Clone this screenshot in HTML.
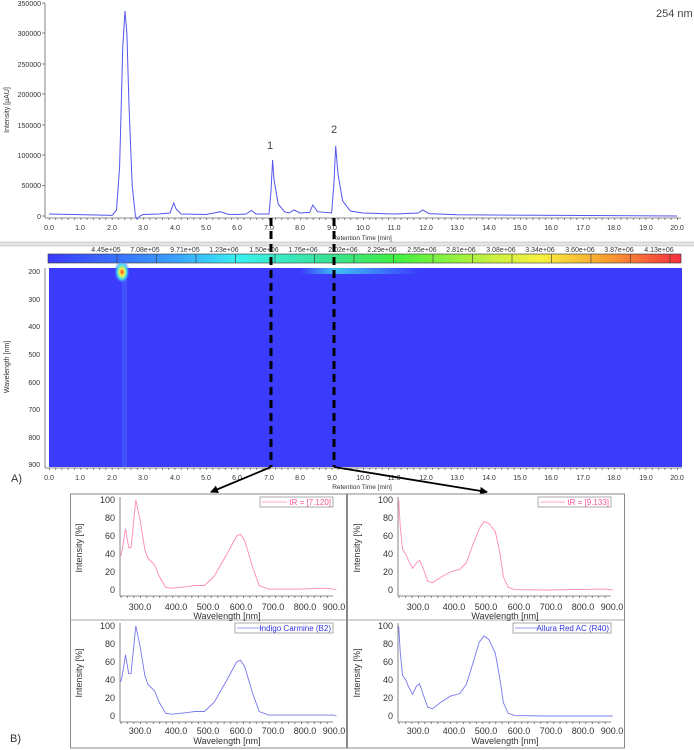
<!DOCTYPE html>
<html><head><meta charset="utf-8"><style>
html,body{margin:0;padding:0;background:#fff;}
svg{display:block;font-family:"Liberation Sans",sans-serif;}
.t{font-size:7px;fill:#333;}
.s{font-size:9px;fill:#333;}
</style></head><body>
<svg width="694" height="750" viewBox="0 0 694 750">
<defs>
<pattern id="mt" x="49" y="0" width="6.28" height="10" patternUnits="userSpaceOnUse"><rect x="0" y="0" width="0.7" height="10" fill="#555"/></pattern>
<pattern id="mts" x="140" y="0" width="6.44" height="10" patternUnits="userSpaceOnUse"><rect x="0" y="0" width="0.7" height="10" fill="#555"/></pattern>
<linearGradient id="cb" x1="0" x2="1"><stop offset="0" stop-color="#3a3aff"/><stop offset="0.2" stop-color="#3aa0ff"/><stop offset="0.3" stop-color="#3af0f0"/><stop offset="0.45" stop-color="#3ae090"/><stop offset="0.55" stop-color="#40f040"/><stop offset="0.7" stop-color="#c8f040"/><stop offset="0.78" stop-color="#f8f040"/><stop offset="0.88" stop-color="#f8a030"/><stop offset="1" stop-color="#f83040"/></linearGradient>
<radialGradient id="hs" cx="0.5" cy="0.5" r="0.5"><stop offset="0" stop-color="#ff3030"/><stop offset="0.3" stop-color="#f8f040"/><stop offset="0.6" stop-color="#40e0f0"/><stop offset="1" stop-color="#3a3aff" stop-opacity="0"/></radialGradient>
<linearGradient id="cy" x1="0" x2="1"><stop offset="0" stop-color="#40e0f0" stop-opacity="0"/><stop offset="0.3" stop-color="#40e0f0" stop-opacity="0.8"/><stop offset="1" stop-color="#40e0f0" stop-opacity="0"/></linearGradient>
<marker id="ar" markerWidth="8" markerHeight="8" refX="7" refY="4" orient="auto" markerUnits="userSpaceOnUse"><path d="M0,0 L8,4 L0,8 z" fill="#000"/></marker>
</defs>

<!-- Top chromatogram -->
<line x1="45" y1="3" x2="45" y2="218" stroke="#666" stroke-width="0.8"/>
<line x1="45" y1="218" x2="681" y2="218" stroke="#666" stroke-width="0.8"/>
<rect x="49" y="218" width="630" height="2" fill="url(#mt)"/>
<g class="t" text-anchor="end">
<text x="41" y="219">0</text><text x="41" y="188">50000</text><text x="41" y="158">100000</text><text x="41" y="128">150000</text><text x="41" y="97">200000</text><text x="41" y="67">250000</text><text x="41" y="36">300000</text><text x="41" y="6">350000</text>
</g>
<g stroke="#666" stroke-width="0.8"><line x1="42" y1="216" x2="45" y2="216"/><line x1="42" y1="185.6" x2="45" y2="185.6"/><line x1="42" y1="155" x2="45" y2="155"/><line x1="42" y1="125" x2="45" y2="125"/><line x1="42" y1="94" x2="45" y2="94"/><line x1="42" y1="64" x2="45" y2="64"/><line x1="42" y1="33" x2="45" y2="33"/><line x1="42" y1="3" x2="45" y2="3"/></g>
<text class="t" transform="translate(9,110) rotate(-90)" text-anchor="middle" font-size="6.5">Intensity [µAU]</text>
<g class="t" text-anchor="middle">
<text x="49" y="230">0.0</text><text x="80" y="230">1.0</text><text x="112" y="230">2.0</text><text x="143" y="230">3.0</text><text x="175" y="230">4.0</text><text x="206" y="230">5.0</text><text x="237" y="230">6.0</text><text x="269" y="230">7.0</text><text x="300" y="230">8.0</text><text x="332" y="230">9.0</text><text x="363" y="230">10.0</text><text x="394" y="230">11.0</text><text x="426" y="230">12.0</text><text x="457" y="230">13.0</text><text x="489" y="230">14.0</text><text x="520" y="230">15.0</text><text x="551" y="230">16.0</text><text x="583" y="230">17.0</text><text x="614" y="230">18.0</text><text x="646" y="230">19.0</text><text x="677" y="230">20.0</text>
<text x="362" y="240" font-size="6.5">Retention Time [min]</text>
</g>
<text x="656" y="17" font-size="11" fill="#444">254 nm</text>
<polyline fill="none" stroke="#5555ee" stroke-width="1" points="49,214 96,215 112,215.4 116.5,210 119.6,167 122.8,46 125,11 126.9,33.6 129,106 132.2,185.6 135.4,216 137,219 140,216 143,214.5 159,214 170,213 173.7,203 176,208.7 181,214 206,214.5 214,213 220,211.7 228,214.2 237,214.5 246,214 251.5,210.5 256,214 269,214 271,191.7 272.6,160 274,179.5 278.2,204 284.5,211.7 289,213 294,210 300,213 309.6,212.4 312.8,205 317.5,211.7 331.6,213 333.8,185.6 335.7,146 337.9,173.4 342.6,200.8 350.4,211 363,213 394.4,214 418,213 422.7,210 429,213.6 457,214.8 677,216"/>
<text x="270" y="149" font-size="11" fill="#444" text-anchor="middle">1</text>
<text x="334" y="133" font-size="11" fill="#444" text-anchor="middle">2</text>

<!-- separator -->
<rect x="0" y="242" width="694" height="4" fill="#e4e4e4"/>
<line x1="0" y1="242" x2="694" y2="242" stroke="#aaa" stroke-width="0.6"/>
<line x1="0" y1="246" x2="694" y2="246" stroke="#aaa" stroke-width="0.6"/>

<!-- colorbar -->
<rect x="48" y="254" width="633" height="9" fill="url(#cb)" stroke="#333" stroke-width="0.6"/>
<g stroke="#333" stroke-width="0.6"><line x1="117" y1="254" x2="117" y2="263"/><line x1="156.5" y1="254" x2="156.5" y2="263"/><line x1="196" y1="254" x2="196" y2="263"/><line x1="235.5" y1="254" x2="235.5" y2="263"/><line x1="275" y1="254" x2="275" y2="263"/><line x1="314.5" y1="254" x2="314.5" y2="263"/><line x1="354" y1="254" x2="354" y2="263"/><line x1="393.5" y1="254" x2="393.5" y2="263"/><line x1="433" y1="254" x2="433" y2="263"/><line x1="472.5" y1="254" x2="472.5" y2="263"/><line x1="512" y1="254" x2="512" y2="263"/><line x1="551.5" y1="254" x2="551.5" y2="263"/><line x1="591" y1="254" x2="591" y2="263"/><line x1="630.5" y1="254" x2="630.5" y2="263"/><line x1="670" y1="254" x2="670" y2="263"/></g>
<g class="t" text-anchor="middle" font-size="6.5">
<text x="106" y="252">4.45e+05</text><text x="145" y="252">7.08e+05</text><text x="185" y="252">9.71e+05</text><text x="224" y="252">1.23e+06</text><text x="264" y="252">1.50e+06</text><text x="303" y="252">1.76e+06</text><text x="343" y="252">2.02e+06</text><text x="382" y="252">2.29e+06</text><text x="422" y="252">2.55e+06</text><text x="461" y="252">2.81e+06</text><text x="501" y="252">3.08e+06</text><text x="540" y="252">3.34e+06</text><text x="580" y="252">3.60e+06</text><text x="619" y="252">3.87e+06</text><text x="659" y="252">4.13e+06</text>
</g>

<!-- heatmap -->
<rect x="49" y="268" width="633" height="199" fill="#3b3bfc"/>
<rect x="300" y="268" width="120" height="6" fill="url(#cy)"/>
<rect x="122" y="272" width="5" height="195" fill="#4a60f8" opacity="0.6"/>
<ellipse cx="122" cy="272" rx="8" ry="12" fill="url(#hs)"/>
<line x1="45" y1="268" x2="45" y2="468" stroke="#666" stroke-width="0.8"/>
<line x1="45" y1="468" x2="682" y2="468" stroke="#666" stroke-width="0.8"/>
<rect x="49" y="468" width="630" height="2" fill="url(#mt)"/>
<g class="t" text-anchor="end">
<text x="40" y="274">200</text><text x="40" y="302">300</text><text x="40" y="329">400</text><text x="40" y="357">500</text><text x="40" y="385">600</text><text x="40" y="412">700</text><text x="40" y="440">800</text><text x="40" y="467">900</text>
</g>
<text class="t" transform="translate(9,367) rotate(-90)" text-anchor="middle" font-size="6.5">Wavelength [nm]</text>
<g class="t" text-anchor="middle">
<text x="49" y="480">0.0</text><text x="80" y="480">1.0</text><text x="112" y="480">2.0</text><text x="143" y="480">3.0</text><text x="175" y="480">4.0</text><text x="206" y="480">5.0</text><text x="237" y="480">6.0</text><text x="269" y="480">7.0</text><text x="300" y="480">8.0</text><text x="332" y="480">9.0</text><text x="363" y="480">10.0</text><text x="394" y="480">11.0</text><text x="426" y="480">12.0</text><text x="457" y="480">13.0</text><text x="489" y="480">14.0</text><text x="520" y="480">15.0</text><text x="551" y="480">16.0</text><text x="583" y="480">17.0</text><text x="614" y="480">18.0</text><text x="646" y="480">19.0</text><text x="677" y="480">20.0</text>
<text x="362" y="489" font-size="6.5">Retention Time [min]</text>
</g>
<text x="11" y="482" font-size="11" fill="#333">A)</text>
<text x="10" y="742" font-size="11" fill="#333">B)</text>

<!-- dashed lines and arrows -->
<line x1="271" y1="218" x2="271" y2="467" stroke="#000" stroke-width="3" stroke-dasharray="8,5"/>
<line x1="334" y1="218" x2="334" y2="467" stroke="#000" stroke-width="3" stroke-dasharray="8,5"/>
<line x1="271" y1="467" x2="211" y2="492" stroke="#000" stroke-width="1.8" marker-end="url(#ar)"/>
<line x1="334" y1="467" x2="487" y2="492" stroke="#000" stroke-width="1.8" marker-end="url(#ar)"/>

<!-- spectra boxes -->
<rect x="70.5" y="494" width="276" height="254" fill="none" stroke="#888" stroke-width="1"/>
<rect x="347.5" y="494" width="277" height="254" fill="none" stroke="#888" stroke-width="1"/>
<line x1="70" y1="620" x2="346" y2="620" stroke="#aaa" stroke-width="1"/>
<line x1="348" y1="620" x2="624" y2="620" stroke="#aaa" stroke-width="1"/>

<g id="L">
<!-- top-left -->
<g>
<line x1="120" y1="497" x2="120" y2="596" stroke="#666" stroke-width="0.8"/>
<line x1="120" y1="596" x2="333" y2="596" stroke="#666" stroke-width="0.8"/>
<rect x="120" y="596" width="213" height="2" fill="url(#mts)"/>
<g class="s" text-anchor="end" font-size="8"><text x="115" y="503">100</text><text x="115" y="521">80</text><text x="115" y="539">60</text><text x="115" y="557">40</text><text x="115" y="575">20</text><text x="115" y="593">0</text></g>
<g class="s" text-anchor="middle" font-size="8"><text x="140" y="610">300.0</text><text x="176" y="610">400.0</text><text x="208" y="610">500.0</text><text x="241" y="610">600.0</text><text x="273" y="610">700.0</text><text x="305" y="610">800.0</text><text x="334" y="610">900.0</text>
<text x="227" y="619">Wavelength [nm]</text></g>
<text class="s" font-size="8" transform="translate(82,548) rotate(-90)" text-anchor="middle">Intensity [%]</text>
</g>
<!-- bottom-left -->
<g>
<line x1="120" y1="623" x2="120" y2="722" stroke="#666" stroke-width="0.8"/>
<line x1="120" y1="722" x2="333" y2="722" stroke="#666" stroke-width="0.8"/>
<rect x="120" y="722" width="213" height="2" fill="url(#mts)"/>
<g class="s" text-anchor="end" font-size="8"><text x="115" y="629">100</text><text x="115" y="647">80</text><text x="115" y="665">60</text><text x="115" y="683">40</text><text x="115" y="701">20</text><text x="115" y="719">0</text></g>
<g class="s" text-anchor="middle" font-size="8"><text x="140" y="734">300.0</text><text x="176" y="734">400.0</text><text x="208" y="734">500.0</text><text x="241" y="734">600.0</text><text x="273" y="734">700.0</text><text x="305" y="734">800.0</text><text x="334" y="734">900.0</text>
<text x="227" y="744">Wavelength [nm]</text></g>
<text class="s" font-size="8" transform="translate(82,673) rotate(-90)" text-anchor="middle">Intensity [%]</text>
</g>
</g>
<use href="#L" transform="translate(278,0)"/>

<!-- curves -->
<g fill="none" stroke-width="0.9">
<polyline transform="matrix(0.322 0 0 -0.9 43.4 590)" vector-effect="non-scaling-stroke" stroke="#ff88bb" points="240,38 245,45 255,68 265,47 272,47 287,100 300,78 315,45 325,35 345,28 360,15 380,3 400,2 450,4 470,5 500,5 530,15 570,40 600,60 612,62 625,55 650,25 670,5 700,1 800,1 880,2 900,1 910,0"/>
<polyline transform="matrix(0.322 0 0 -0.9 43.4 716)" vector-effect="non-scaling-stroke" stroke="#7777ee" points="240,38 245,45 255,68 265,47 272,47 287,100 300,78 315,45 325,35 345,28 360,15 380,3 400,2 450,4 470,5 500,5 530,15 570,40 600,60 612,62 625,55 650,25 670,5 700,1 800,1 880,1 900,1 910,0"/>
<polyline transform="matrix(0.322 0 0 -0.9 321.4 590)" vector-effect="non-scaling-stroke" stroke="#ff88bb" points="240,100 245,70 252,45 262,40 270,33 283,24 295,30 305,33 315,25 330,10 345,8 370,14 400,20 430,23 450,30 470,50 490,68 505,76 520,74 540,65 555,40 565,15 580,3 600,0.5 700,0 880,1 905,0"/>
<polyline transform="matrix(0.322 0 0 -0.9 321.4 716)" vector-effect="non-scaling-stroke" stroke="#7777ee" points="240,100 245,70 252,45 262,40 270,33 283,24 295,33 305,36 315,25 330,10 345,8 370,15 400,22 430,25 450,35 470,58 490,82 505,89 520,85 540,70 555,40 565,15 580,3 600,0.5 700,0 905,0"/>
</g>

<!-- legends -->
<rect x="260" y="497" width="73" height="10" fill="#fff" stroke="#888" stroke-width="0.7"/>
<line x1="262" y1="502" x2="287" y2="502" stroke="#ff88bb" stroke-width="0.8"/>
<text x="331" y="505" font-size="8" fill="#ff5599" text-anchor="end">tR = [7.120]</text>
<rect x="235" y="623" width="98" height="10" fill="#fff" stroke="#888" stroke-width="0.7"/>
<line x1="237" y1="628" x2="262" y2="628" stroke="#7777ee" stroke-width="0.8"/>
<text x="331" y="631" font-size="8" fill="#3333dd" text-anchor="end">Indigo Carmine (B2)</text>
<rect x="538" y="497" width="73" height="10" fill="#fff" stroke="#888" stroke-width="0.7"/>
<line x1="540" y1="502" x2="565" y2="502" stroke="#ff88bb" stroke-width="0.8"/>
<text x="609" y="505" font-size="8" fill="#ff5599" text-anchor="end">tR = [9.133]</text>
<rect x="513" y="623" width="98" height="10" fill="#fff" stroke="#888" stroke-width="0.7"/>
<line x1="515" y1="628" x2="538" y2="628" stroke="#7777ee" stroke-width="0.8"/>
<text x="609" y="631" font-size="8" fill="#3333dd" text-anchor="end">Allura Red AC (R40)</text>
</svg>
</body></html>
